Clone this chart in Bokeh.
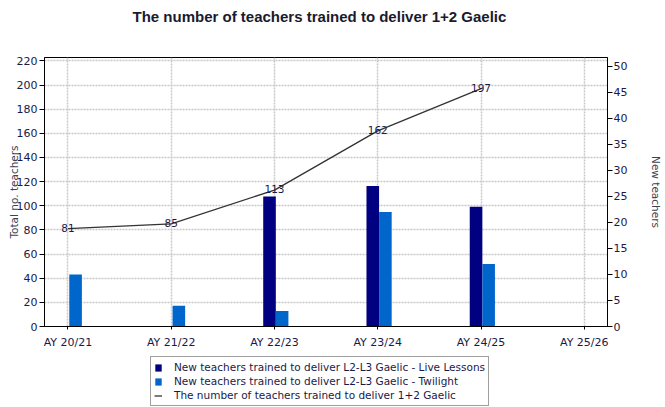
from bokeh.plotting import figure
from bokeh.layouts import column
from bokeh.models import (Range1d, LinearAxis, FixedTicker, ColumnDataSource,
                          Legend, LegendItem, Label)
from bokeh.embed import file_html
from bokeh.resources import INLINE
from bokeh.core.properties import value
from bokeh.transform import dodge

# ---- data ----
years = ["AY 20/21", "AY 21/22", "AY 22/23", "AY 23/24", "AY 24/25", "AY 25/26"]
data_years = ["AY 20/21", "AY 21/22", "AY 22/23", "AY 23/24", "AY 24/25"]
live_lessons = [0, 0, 25, 27, 23]
twilight = [10, 4, 3, 22, 12]
total_trained = [81, 85, 113, 162, 197]
left_ticks = [0, 20, 40, 60, 80, 100, 120, 140, 160, 180, 200, 220]
right_ticks = [0, 5, 10, 15, 20, 25, 30, 35, 40, 45, 50]

title_text = "The number of teachers trained to deliver 1+2 Gaelic"
left_label = "Total no. teachers"
right_label = "New teachers"
legend_labels = ["New teachers trained to deliver L2-L3 Gaelic - Live Lessons",
                 "New teachers trained to deliver L2-L3 Gaelic - Twilight",
                 "The number of teachers trained to deliver 1+2 Gaelic"]

LIVE_C = "#000080"
TWI_C = "#0066cc"
LINE_C = "#333333"
TXT = "#1a1a48"
FONT = "DejaVu Sans"
W = 665

# ---- title strip (its frame is aligned with the chart frame by the column) ----
pt = figure(width=W, height=30, x_axis_type=None, y_axis_type=None,
            output_backend="svg", toolbar_location=None, min_border=0,
            x_range=Range1d(0, 1), y_range=Range1d(0, 1))
pt.outline_line_color = None
pt.grid.visible = False
pt.add_layout(Label(x=88, y=14, x_units="screen", y_units="screen",
                    text=title_text, text_font="Liberation Sans",
                    text_font_style="bold", text_font_size="15px",
                    text_baseline="middle", text_color="#1a1a2e"))

# ---- main chart ----
idx = [years.index(y) for y in data_years]
src = ColumnDataSource(dict(x=idx, live=live_lessons, twi=twilight,
                            total=total_trained,
                            lab=[str(v) for v in total_trained]))

p = figure(width=W, height=322,
           x_range=Range1d(-0.227, 5.225), y_range=Range1d(0, 222.8),
           output_backend="svg", toolbar_location=None,
           min_border_left=44, min_border_right=52,
           min_border_top=27, min_border_bottom=26)
p.background_fill_color = "white"
p.border_fill_color = "white"
p.outline_line_color = "black"
p.outline_line_width = 1

p.extra_y_ranges = {"right": Range1d(0, 51.7)}
raxis = LinearAxis(y_range_name="right", ticker=FixedTicker(ticks=right_ticks))
p.add_layout(raxis, "right")

laxis = p.left[0]
laxis.ticker = FixedTicker(ticks=left_ticks)

for ax in (laxis, raxis):
    ax.axis_line_color = "black"
    ax.major_tick_line_color = "black"
    ax.major_tick_out = 5
    ax.major_tick_in = 0
    ax.minor_tick_line_color = None
    ax.major_label_standoff = 2
    ax.major_label_text_font = FONT
    ax.major_label_text_font_size = "11px"
    ax.major_label_text_color = TXT
    ax.axis_label_text_font = FONT
    ax.axis_label_text_font_size = "10.5px"
    ax.axis_label_text_font_style = "normal"
    ax.axis_label_text_color = "#404050"

laxis.axis_label = left_label
laxis.axis_label_standoff = -6
raxis.axis_label = right_label
raxis.axis_label_standoff = 20
raxis.major_label_standoff = 1

xaxis = p.below[0]
xaxis.ticker = FixedTicker(ticks=list(range(len(years))))
xaxis.major_label_overrides = {i: y for i, y in enumerate(years)}
xaxis.axis_line_color = "black"
xaxis.major_tick_line_color = "black"
xaxis.major_tick_out = 3
xaxis.major_tick_in = 0
xaxis.minor_tick_line_color = None
xaxis.major_label_standoff = 6
xaxis.major_label_text_font = FONT
xaxis.major_label_text_font_size = "11px"
xaxis.major_label_text_color = TXT

for g in (p.xgrid[0], p.ygrid[0]):
    g.grid_line_color = "#c8c8c8"
    g.grid_line_dash = "2 1"
    g.grid_line_width = 1.5

r_live = p.vbar(x=dodge("x", -0.048, range=p.x_range), top="live", width=0.122,
                source=src, y_range_name="right",
                fill_color=LIVE_C, line_color=None)
r_twi = p.vbar(x=dodge("x", 0.074, range=p.x_range), top="twi", width=0.122,
               source=src, y_range_name="right",
               fill_color=TWI_C, line_color=None)
r_line = p.line("x", "total", source=src, line_color=LINE_C, line_width=1.3)
p.text(x="x", y="total", text="lab", source=src, text_align="center",
       text_baseline="alphabetic", x_offset=0, y_offset=-1,
       text_font=value(FONT), text_font_size="10.5px", text_color=TXT)

# ---- legend strip: same series, ranges chosen so only the legend shows ----
pl = figure(width=W, height=55, x_axis_type=None, y_axis_type=None,
            output_backend="svg", toolbar_location=None, min_border=0,
            x_range=Range1d(100, 101), y_range=Range1d(1000, 1001))
pl.outline_line_color = None
pl.grid.visible = False
l_live = pl.vbar(x="x", top="live", width=0.122, source=src,
                 fill_color=LIVE_C, line_color=None)
l_twi = pl.vbar(x="x", top="twi", width=0.122, source=src,
                fill_color=TWI_C, line_color=None)
l_line = pl.line(x="x", y="total", source=src, line_color=LINE_C, line_width=1.3)
legend = Legend(items=[LegendItem(label=legend_labels[0], renderers=[l_live]),
                       LegendItem(label=legend_labels[1], renderers=[l_twi]),
                       LegendItem(label=legend_labels[2], renderers=[l_line])],
                location=(106, 1), orientation="vertical",
                glyph_width=8, glyph_height=9, label_height=14, spacing=0,
                padding=3, margin=0, label_standoff=12,
                border_line_color="#404040", border_line_width=1,
                background_fill_color="white", background_fill_alpha=1,
                label_text_font=FONT, label_text_font_size="10.5px",
                label_text_color=TXT)
pl.add_layout(legend)

layout = column(pt, p, pl, spacing=0)
open("out.html", "w").write(file_html(layout, INLINE))
